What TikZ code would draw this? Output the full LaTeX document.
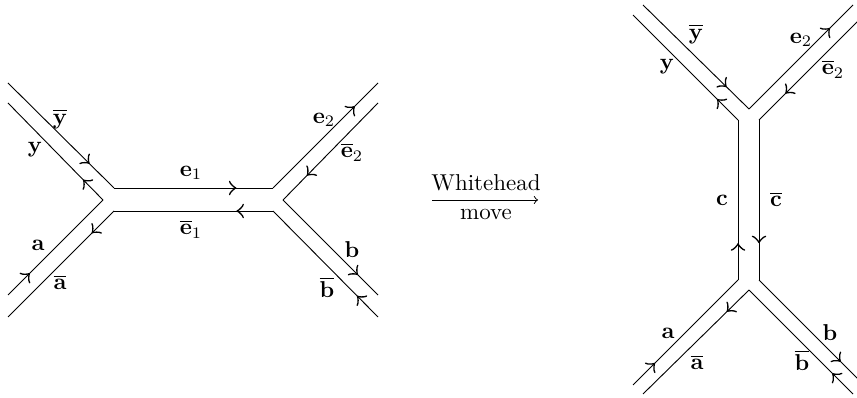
\documentclass[tikz,border=0pt]{standalone}
\usepackage{amsmath}
\usetikzlibrary{decorations.markings}

\tikzset{
  flow/.style={postaction={decorate},
    decoration={markings, mark=at position #1 with {\arrow[scale=1.8]{>}}}},
  lbl/.style={inner sep=1pt},
}

\begin{document}
\begin{tikzpicture}[x=0.0153cm, y=-0.0153cm]
  \clip (0,0) rectangle (857,398);

  % 1. LEFT GRAPH (edge e1 horizontal)
  \coordinate (ybL) at (8,83);    \coordinate (ltL) at (114,188);
  \coordinate (rtL) at (273,188); \coordinate (etL) at (378,83);
  \coordinate (bbL) at (378,317); \coordinate (rbL) at (273,211);
  \coordinate (lbL) at (114,211); \coordinate (abL) at (8,317);
  \coordinate (aL)  at (8,295);   \coordinate (lvL) at (103,200);
  \coordinate (yL)  at (8,103);
  \coordinate (ebL) at (378,103); \coordinate (rvL) at (283,200);
  \coordinate (bL)  at (378,295);

  % outer top boundary
  \draw[flow=0.77] (ybL) -- (ltL);
  \draw[flow=0.77] (ltL) -- (rtL);
  \draw[flow=0.78] (rtL) -- (etL);
  % outer bottom boundary
  \draw[flow=0.2]  (bbL) -- (rbL);
  \draw[flow=0.23] (rbL) -- (lbL);
  \draw[flow=0.21] (lbL) -- (abL);
  % inner left
  \draw[flow=0.23] (aL) -- (lvL);
  \draw[flow=0.21] (lvL) -- (yL);
  % inner right
  \draw[flow=0.75] (ebL) -- (rvL);
  \draw[flow=0.79] (rvL) -- (bL);

  \node[lbl] (lab-ybL) at (60,119)  {$\overline{\mathbf{y}}$};
  \node[lbl] (lab-yL)  at (35,150)  {$\mathbf{y}$};
  \node[lbl] (lab-aL)  at (38,245)  {$\mathbf{a}$};
  \node[lbl] (lab-abL) at (60,282)  {$\overline{\mathbf{a}}$};
  \node[lbl] (lab-e1)  at (191,173) {$\mathbf{e}_1$};
  \node[lbl] (lab-eb1) at (191,229) {$\overline{\mathbf{e}}_1$};
  \node[lbl] (lab-e2L) at (324,120) {$\mathbf{e}_2$};
  \node[lbl] (lab-ebL) at (352,152) {$\overline{\mathbf{e}}_2$};
  \node[lbl] (lab-bL)  at (352,250) {$\mathbf{b}$};
  \node[lbl] (lab-bbL) at (327,287) {$\overline{\mathbf{b}}$};

  % 2. WHITEHEAD MOVE ARROW
  \coordinate (wl) at (432,200);
  \coordinate (wr) at (538,200);
  \draw[-{>[scale=1.4]}] (wl) -- (wr);
  \node (wh) at (486,183) {Whitehead};
  \node (mv) at (486,214) {move};

  % 3. RIGHT GRAPH (edge c vertical)
  \coordinate (ybR) at (643,5);   \coordinate (tvR) at (749,109);
  \coordinate (etR) at (853,5);
  \coordinate (yR)  at (633,15);  \coordinate (ltR) at (738,120);
  \coordinate (lbR) at (738,280); \coordinate (aR)  at (633,385);
  \coordinate (ebR) at (864,15);  \coordinate (rtR) at (759,120);
  \coordinate (rbR) at (759,280); \coordinate (bR)  at (864,385);
  \coordinate (bbR) at (853,394); \coordinate (bvR) at (749,290);
  \coordinate (abR) at (643,394);

  % outer top boundary
  \draw[flow=0.79] (ybR) -- (tvR);
  \draw[flow=0.78] (tvR) -- (etR);
  % inner left
  \draw[flow=0.21] (aR) -- (lbR);
  \draw[flow=0.23] (lbR) -- (ltR);
  \draw[flow=0.2]  (ltR) -- (yR);
  % inner right
  \draw[flow=0.75] (ebR) -- (rtR);
  \draw[flow=0.77] (rtR) -- (rbR);
  \draw[flow=0.78] (rbR) -- (bR);
  % outer bottom boundary
  \draw[flow=0.2]  (bbR) -- (bvR);
  \draw[flow=0.21] (bvR) -- (abR);

  \node[lbl] (lab-ybR) at (696,34)  {$\overline{\mathbf{y}}$};
  \node[lbl] (lab-yR)  at (667,67)  {$\mathbf{y}$};
  \node[lbl] (lab-e2R) at (801,40)  {$\mathbf{e}_2$};
  \node[lbl] (lab-ebR) at (833,69)  {$\overline{\mathbf{e}}_2$};
  \node[lbl] (lab-c)   at (722,200) {$\mathbf{c}$};
  \node[lbl] (lab-cb)  at (776,199) {$\overline{\mathbf{c}}$};
  \node[lbl] (lab-aR)  at (668,333) {$\mathbf{a}$};
  \node[lbl] (lab-abR) at (697,362) {$\overline{\mathbf{a}}$};
  \node[lbl] (lab-bR)  at (830,333) {$\mathbf{b}$};
  \node[lbl] (lab-bbR) at (802,360) {$\overline{\mathbf{b}}$};
\end{tikzpicture}
\end{document}
